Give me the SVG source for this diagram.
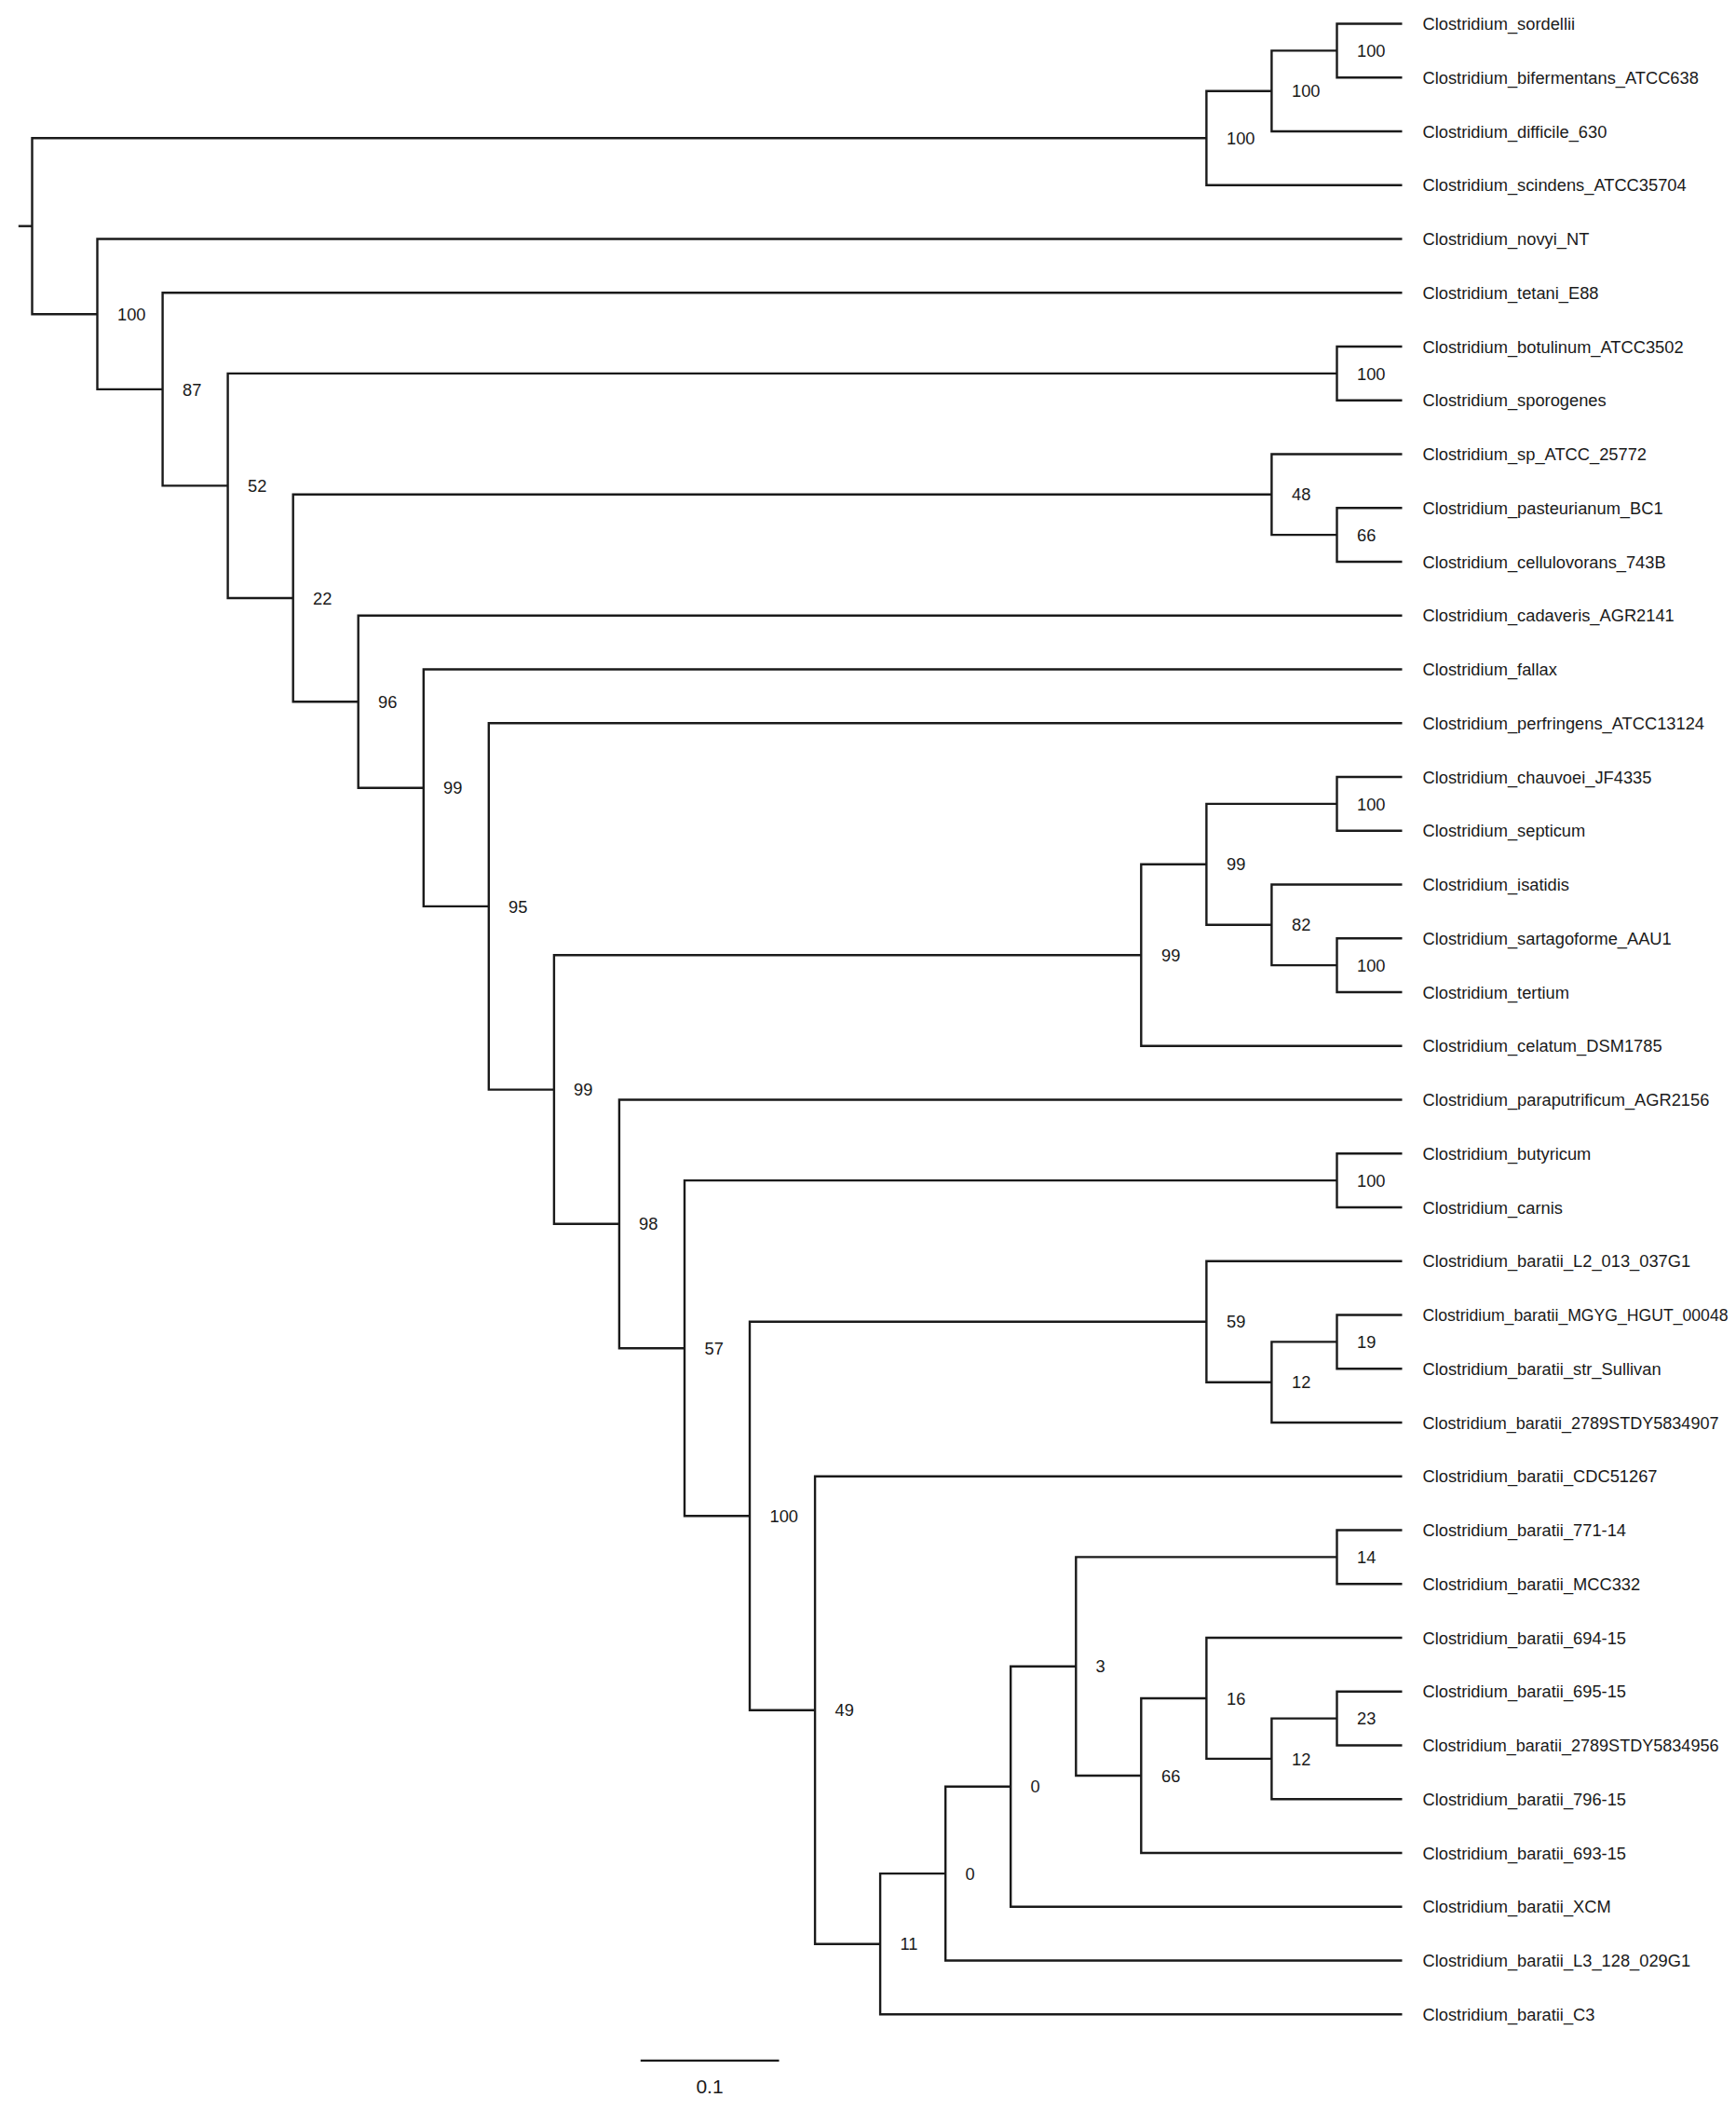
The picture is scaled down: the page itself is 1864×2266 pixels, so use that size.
<svg xmlns="http://www.w3.org/2000/svg" width="1864" height="2266" viewBox="0 0 1864 2266">
<style>
.br{fill:none;stroke:#1a1a1a;stroke-width:2.4;stroke-linejoin:miter;stroke-linecap:butt}
.lf,.bs{font-family:"Liberation Sans",Arial,sans-serif;font-size:18.3px;fill:#1a1a1a}
.sc{font-family:"Liberation Sans",Arial,sans-serif;font-size:21px;fill:#1a1a1a;text-anchor:middle}
</style>
<rect width="1864" height="2266" fill="#ffffff"/>
<g id="connectors">
<path class="br" d="M19.8 242.7 H34.5"/>
<path class="br" d="M1295.4 148.2 H34.5 V337.2 H104.5"/>
<path class="br" d="M1505.5 25.5 H1435.5 V83.25 H1505.5"/>
<path class="br" d="M1435.5 54.4 H1365.4 V141 H1505.5"/>
<path class="br" d="M1365.4 97.7 H1295.4 V198.75 H1505.5"/>
<path class="br" d="M1505.5 256.5 H104.5 V417.9 H174.6"/>
<path class="br" d="M1505.5 314.25 H174.6 V521.4 H244.6"/>
<path class="br" d="M1435.5 400.9 H244.6 V642 H314.7"/>
<path class="br" d="M1505.5 372 H1435.5 V429.75 H1505.5"/>
<path class="br" d="M1365.4 530.8 H314.7 V753.2 H384.7"/>
<path class="br" d="M1505.5 487.5 H1365.4 V574.1 H1435.5"/>
<path class="br" d="M1505.5 545.25 H1435.5 V603 H1505.5"/>
<path class="br" d="M1505.5 660.75 H384.7 V845.7 H454.8"/>
<path class="br" d="M1505.5 718.5 H454.8 V972.9 H524.8"/>
<path class="br" d="M1505.5 776.25 H524.8 V1169.6 H594.9"/>
<path class="br" d="M1225.3 1025.3 H594.9 V1313.8 H664.9"/>
<path class="br" d="M1295.4 927.8 H1225.3 V1122.75 H1505.5"/>
<path class="br" d="M1435.5 862.9 H1295.4 V992.8 H1365.4"/>
<path class="br" d="M1505.5 834 H1435.5 V891.75 H1505.5"/>
<path class="br" d="M1505.5 949.5 H1365.4 V1036.1 H1435.5"/>
<path class="br" d="M1505.5 1007.25 H1435.5 V1065 H1505.5"/>
<path class="br" d="M1505.5 1180.5 H664.9 V1447.2 H735"/>
<path class="br" d="M1435.5 1267.1 H735 V1627.2 H805"/>
<path class="br" d="M1505.5 1238.25 H1435.5 V1296 H1505.5"/>
<path class="br" d="M1295.4 1418.7 H805 V1835.7 H875.1"/>
<path class="br" d="M1505.5 1353.75 H1295.4 V1483.7 H1365.4"/>
<path class="br" d="M1435.5 1440.4 H1365.4 V1527 H1505.5"/>
<path class="br" d="M1505.5 1411.5 H1435.5 V1469.25 H1505.5"/>
<path class="br" d="M1505.5 1584.75 H875.1 V2086.7 H945.1"/>
<path class="br" d="M1015.2 2011.1 H945.1 V2162.25 H1505.5"/>
<path class="br" d="M1085.2 1917.7 H1015.2 V2104.5 H1505.5"/>
<path class="br" d="M1155.3 1788.7 H1085.2 V2046.75 H1505.5"/>
<path class="br" d="M1435.5 1671.4 H1155.3 V1906 H1225.3"/>
<path class="br" d="M1505.5 1642.5 H1435.5 V1700.25 H1505.5"/>
<path class="br" d="M1295.4 1823 H1225.3 V1989 H1505.5"/>
<path class="br" d="M1505.5 1758 H1295.4 V1887.9 H1365.4"/>
<path class="br" d="M1435.5 1844.6 H1365.4 V1931.25 H1505.5"/>
<path class="br" d="M1505.5 1815.75 H1435.5 V1873.5 H1505.5"/>
</g>
<g id="internal-nodes">
<g id="n-sord-bif"><text class="bs" x="1457" y="61">100</text></g>
<g id="n-diff"><text class="bs" x="1387" y="104.3">100</text></g>
<g id="n-scind"><text class="bs" x="1317" y="154.8">100</text></g>
<g id="n-B"><text class="bs" x="126" y="343.8">100</text></g>
<g id="n-87"><text class="bs" x="196" y="424.5">87</text></g>
<g id="n-52"><text class="bs" x="266" y="528">52</text></g>
<g id="n-bot"><text class="bs" x="1457" y="407.5">100</text></g>
<g id="n-22"><text class="bs" x="336" y="648.6">22</text></g>
<g id="n-48"><text class="bs" x="1387" y="537.4">48</text></g>
<g id="n-66a"><text class="bs" x="1457" y="580.7">66</text></g>
<g id="n-96"><text class="bs" x="406" y="759.8">96</text></g>
<g id="n-99a"><text class="bs" x="476" y="852.3">99</text></g>
<g id="n-95"><text class="bs" x="546" y="979.5">95</text></g>
<g id="n-99b"><text class="bs" x="616" y="1176.2">99</text></g>
<g id="n-99c"><text class="bs" x="1247" y="1031.9">99</text></g>
<g id="n-99d"><text class="bs" x="1317" y="934.4">99</text></g>
<g id="n-100e"><text class="bs" x="1457" y="869.5">100</text></g>
<g id="n-82"><text class="bs" x="1387" y="999.4">82</text></g>
<g id="n-100f"><text class="bs" x="1457" y="1042.7">100</text></g>
<g id="n-98"><text class="bs" x="686" y="1320.4">98</text></g>
<g id="n-57"><text class="bs" x="756.5" y="1453.8">57</text></g>
<g id="n-but"><text class="bs" x="1457" y="1273.7">100</text></g>
<g id="n-100g"><text class="bs" x="826.5" y="1633.8">100</text></g>
<g id="n-59"><text class="bs" x="1317" y="1425.3">59</text></g>
<g id="n-12a"><text class="bs" x="1387" y="1490.3">12</text></g>
<g id="n-19"><text class="bs" x="1457" y="1447">19</text></g>
<g id="n-49"><text class="bs" x="896.5" y="1842.3">49</text></g>
<g id="n-11"><text class="bs" x="966.5" y="2093.3">11</text></g>
<g id="n-0a"><text class="bs" x="1036.5" y="2017.7">0</text></g>
<g id="n-0b"><text class="bs" x="1106.5" y="1924.3">0</text></g>
<g id="n-3"><text class="bs" x="1176.5" y="1795.3">3</text></g>
<g id="n-14"><text class="bs" x="1457" y="1678">14</text></g>
<g id="n-66b"><text class="bs" x="1247" y="1912.6">66</text></g>
<g id="n-16"><text class="bs" x="1317" y="1829.6">16</text></g>
<g id="n-12b"><text class="bs" x="1387" y="1894.5">12</text></g>
<g id="n-23"><text class="bs" x="1457" y="1851.2">23</text></g>
</g>
<g id="leaves">
<g id="leaf-0"><text class="lf" x="1527.5" y="32.1">Clostridium_sordellii</text></g>
<g id="leaf-1"><text class="lf" x="1527.5" y="89.85">Clostridium_bifermentans_ATCC638</text></g>
<g id="leaf-2"><text class="lf" x="1527.5" y="147.6">Clostridium_difficile_630</text></g>
<g id="leaf-3"><text class="lf" x="1527.5" y="205.35">Clostridium_scindens_ATCC35704</text></g>
<g id="leaf-4"><text class="lf" x="1527.5" y="263.1">Clostridium_novyi_NT</text></g>
<g id="leaf-5"><text class="lf" x="1527.5" y="320.85">Clostridium_tetani_E88</text></g>
<g id="leaf-6"><text class="lf" x="1527.5" y="378.6">Clostridium_botulinum_ATCC3502</text></g>
<g id="leaf-7"><text class="lf" x="1527.5" y="436.35">Clostridium_sporogenes</text></g>
<g id="leaf-8"><text class="lf" x="1527.5" y="494.1">Clostridium_sp_ATCC_25772</text></g>
<g id="leaf-9"><text class="lf" x="1527.5" y="551.85">Clostridium_pasteurianum_BC1</text></g>
<g id="leaf-10"><text class="lf" x="1527.5" y="609.6">Clostridium_cellulovorans_743B</text></g>
<g id="leaf-11"><text class="lf" x="1527.5" y="667.35">Clostridium_cadaveris_AGR2141</text></g>
<g id="leaf-12"><text class="lf" x="1527.5" y="725.1">Clostridium_fallax</text></g>
<g id="leaf-13"><text class="lf" x="1527.5" y="782.85">Clostridium_perfringens_ATCC13124</text></g>
<g id="leaf-14"><text class="lf" x="1527.5" y="840.6">Clostridium_chauvoei_JF4335</text></g>
<g id="leaf-15"><text class="lf" x="1527.5" y="898.35">Clostridium_septicum</text></g>
<g id="leaf-16"><text class="lf" x="1527.5" y="956.1">Clostridium_isatidis</text></g>
<g id="leaf-17"><text class="lf" x="1527.5" y="1013.85">Clostridium_sartagoforme_AAU1</text></g>
<g id="leaf-18"><text class="lf" x="1527.5" y="1071.6">Clostridium_tertium</text></g>
<g id="leaf-19"><text class="lf" x="1527.5" y="1129.35">Clostridium_celatum_DSM1785</text></g>
<g id="leaf-20"><text class="lf" x="1527.5" y="1187.1">Clostridium_paraputrificum_AGR2156</text></g>
<g id="leaf-21"><text class="lf" x="1527.5" y="1244.85">Clostridium_butyricum</text></g>
<g id="leaf-22"><text class="lf" x="1527.5" y="1302.6">Clostridium_carnis</text></g>
<g id="leaf-23"><text class="lf" x="1527.5" y="1360.35">Clostridium_baratii_L2_013_037G1</text></g>
<g id="leaf-24"><text class="lf" x="1527.5" y="1418.1" textLength="328" lengthAdjust="spacingAndGlyphs">Clostridium_baratii_MGYG_HGUT_00048</text></g>
<g id="leaf-25"><text class="lf" x="1527.5" y="1475.85">Clostridium_baratii_str_Sullivan</text></g>
<g id="leaf-26"><text class="lf" x="1527.5" y="1533.6" textLength="318" lengthAdjust="spacingAndGlyphs">Clostridium_baratii_2789STDY5834907</text></g>
<g id="leaf-27"><text class="lf" x="1527.5" y="1591.35">Clostridium_baratii_CDC51267</text></g>
<g id="leaf-28"><text class="lf" x="1527.5" y="1649.1">Clostridium_baratii_771-14</text></g>
<g id="leaf-29"><text class="lf" x="1527.5" y="1706.85">Clostridium_baratii_MCC332</text></g>
<g id="leaf-30"><text class="lf" x="1527.5" y="1764.6">Clostridium_baratii_694-15</text></g>
<g id="leaf-31"><text class="lf" x="1527.5" y="1822.35">Clostridium_baratii_695-15</text></g>
<g id="leaf-32"><text class="lf" x="1527.5" y="1880.1" textLength="318" lengthAdjust="spacingAndGlyphs">Clostridium_baratii_2789STDY5834956</text></g>
<g id="leaf-33"><text class="lf" x="1527.5" y="1937.85">Clostridium_baratii_796-15</text></g>
<g id="leaf-34"><text class="lf" x="1527.5" y="1995.6">Clostridium_baratii_693-15</text></g>
<g id="leaf-35"><text class="lf" x="1527.5" y="2053.35">Clostridium_baratii_XCM</text></g>
<g id="leaf-36"><text class="lf" x="1527.5" y="2111.1">Clostridium_baratii_L3_128_029G1</text></g>
<g id="leaf-37"><text class="lf" x="1527.5" y="2168.85">Clostridium_baratii_C3</text></g>
</g>
<g id="scale-bar">
<path class="br" d="M687.8 2211.9 H836.5"/>
<text class="sc" x="762" y="2247">0.1</text>
</g>
</svg>
